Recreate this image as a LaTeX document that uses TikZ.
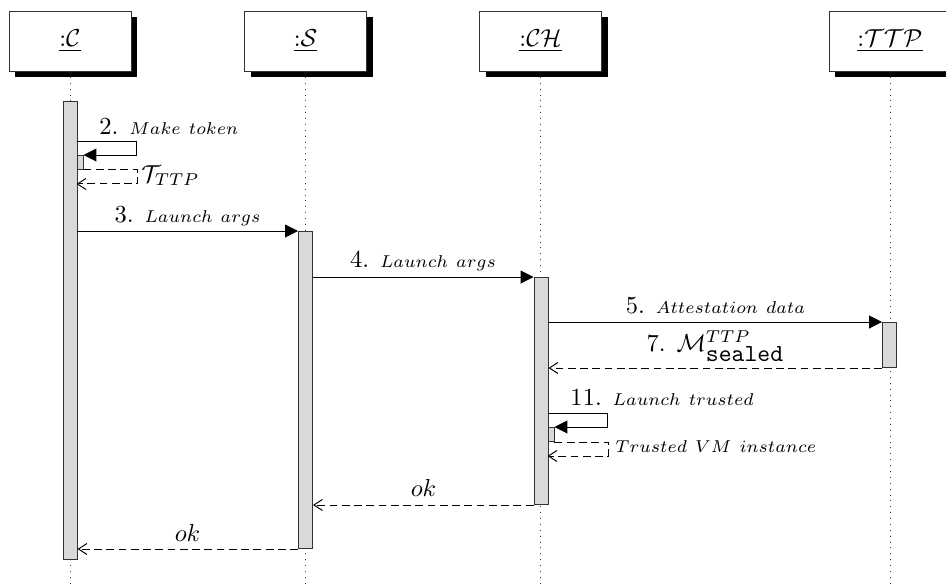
\documentclass[tikz,border=0pt]{standalone}
\usetikzlibrary{arrows.meta,shadows,calc}
\newcommand{\pxu}{0.408pt}
\begin{document}
\begin{tikzpicture}[x=0.408pt,y=-0.408pt,
  hbox/.style={draw=black!80, fill=white, minimum width=122*\pxu, minimum height=60*\pxu, inner sep=0,
     drop shadow={shadow xshift=2.45pt, shadow yshift=-2.45pt, fill=black, opacity=1}},
  bar/.style={draw=black!80, fill=gray!30, inner sep=0, minimum width=14*\pxu, anchor=north},
  nbar/.style={bar, minimum width=6*\pxu, minimum height=14*\pxu},
  lifeline/.style={dotted, black!80},
  call/.style={-{Triangle[length=5.3pt,width=5.3pt]}},
  ret/.style={dash pattern=on 3.2pt off 1.8pt, -{Straight Barb[length=3.5pt,width=4.5pt]}},
  lbl/.style={inner sep=0, anchor=base},
  lblw/.style={inner sep=0, anchor=base west}]
\useasboundingbox (0,0) rectangle (946,586);
\coordinate (bot) at (0,586);
% lifelines
\coordinate (lc) at (70,71);
\coordinate (ls) at (305.5,71);
\coordinate (lch) at (540.5,71);
\coordinate (lt) at (890,71);
\draw[lifeline] (lc) -- (lc |- bot);
\draw[lifeline] (ls) -- (ls |- bot);
\draw[lifeline] (lch) -- (lch |- bot);
\draw[lifeline] (lt) -- (lt |- bot);
% header boxes
\node[hbox] (hc) at (70,41) {\underline{:$\mathcal{C}$}};
\node[hbox] (hs) at (305.5,41) {\underline{:$\mathcal{S}$}};
\node[hbox] (hch) at (540.5,41) {\underline{:$\mathcal{CH}$}};
\node[hbox] (ht) at (890,41) {\underline{:$\mathcal{TTP}$}};
% activation bars
\node[bar, minimum height=458*\pxu] (cb) at (70,101) {};
\node[bar, minimum height=317*\pxu] (sb) at (305.5,231) {};
\node[bar, minimum height=227*\pxu] (chb) at (541,277) {};
\node[bar, minimum height=45*\pxu] (tb) at (889.5,322) {};
\node[nbar] (cn) at (80,155) {};
\node[nbar] (chn) at (551,427) {};
% self call 2
\draw[call] ($(cn.north west)+(0,-14)$) -- ++(60,0) |- (cn.north east);
\draw[ret] (cn.south east) -- ++(54,0) |- ($(cn.south west)+(0,14)$);
\node[lblw] (l2) at (99,134) {2. $\scriptstyle Make\ token$};
\node[lblw] (lT) at (141,182) {$\mathcal{T}_{TTP}$};
% 3
\draw[call] (cb.east |- sb.north) -- (sb.north west);
\node[lbl] (l3) at (187.5,222) {3. $\scriptstyle Launch\ args$};
% 4
\draw[call] (sb.east |- chb.north) -- (chb.north west);
\node[lbl] (l4) at (423,267) {4. $\scriptstyle Launch\ args$};
% 5
\draw[call] (chb.east |- tb.north) -- (tb.north west);
\node[lbl] (l5) at (715.5,313) {5. $\scriptstyle Attestation\ data$};
% 7
\draw[ret] (tb.south west) -- (chb.east |- tb.south);
\node[lbl] (l7) at (715.5,351) {7. $\mathcal{M}^{TTP}_{\hbox{\texttt{sealed}}}$};
% 11 self call
\draw[call] ($(chn.north west)+(0,-14)$) -- ++(60,0) |- (chn.north east);
\draw[ret] (chn.south east) -- ++(54,0) |- ($(chn.south west)+(0,14)$);
\node[lblw] (l11) at (570,405) {11. $\scriptstyle Launch\ trusted$};
\node[lblw] (lv) at (615,452) {$\scriptstyle Trusted\ VM\ instance$};
% ok returns
\draw[ret] (chb.south west) -- (sb.east |- chb.south);
\node[lbl] (ok1) at (423.5,496) {$ok$};
\draw[ret] (sb.south west) -- (cb.east |- sb.south);
\node[lbl] (ok2) at (187.5,541) {$ok$};
\end{tikzpicture}
\end{document}
